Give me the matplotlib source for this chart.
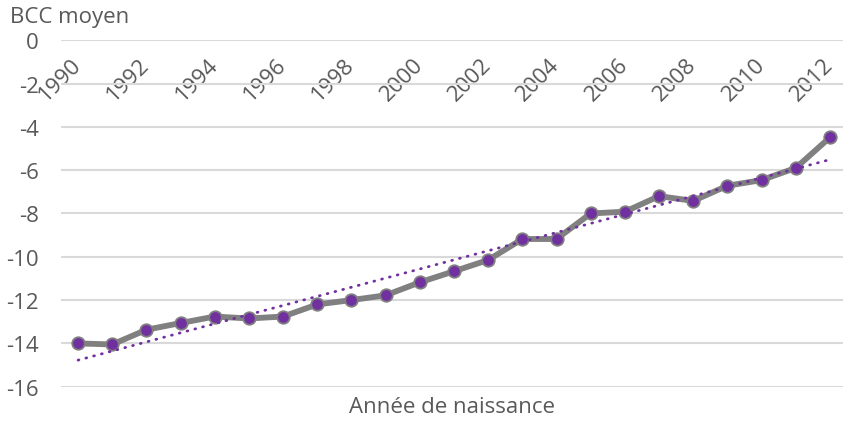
import numpy as np
import matplotlib
matplotlib.use("Agg")
import matplotlib.pyplot as plt

plt.rcParams['font.family'] = ['Open Sans', 'DejaVu Sans']

years = list(range(1990, 2013))
bcc = [-14.0, -14.05, -13.37, -13.06, -12.76, -12.85, -12.76, -12.2, -12.0, -11.78,
       -11.18, -10.67, -10.15, -9.18, -9.18, -8.0, -7.92, -7.2, -7.42, -6.72,
       -6.46, -5.9, -4.49]
y_ticks = list(range(-16, 1, 2))

grey_txt = "#595959"
purple = "#7030A0"
fs = 16

fig = plt.figure(figsize=(8.43, 4.31), dpi=100)
ax = fig.add_axes([61 / 843, 1 - 387.7 / 431, 786 / 843, (387.7 - 41.2) / 431])

x = np.arange(len(years))
ax.plot(x, bcc, color="#808080", lw=4.2, zorder=3,
        marker="o", ms=9, mfc=purple, mec="#808080", mew=1.3, solid_joinstyle="round")

# linear trend line, like excel
k, b = np.polyfit(x, bcc, 1)
ax.plot(x, k * x + b, color=purple, lw=2.0, ls=(0, (0.3, 2.6)), dash_capstyle="round", zorder=4)

ax.set_xlim(-0.5, len(years) - 0.5)
ax.set_ylim(-16, 0)
ax.set_yticks(y_ticks)
ax.set_yticklabels([str(v) for v in y_ticks])
ax.yaxis.grid(True, color="#D9D9D9", lw=1.5)
ax.set_axisbelow(True)

for s in ax.spines.values():
    s.set_visible(False)
ax.spines['bottom'].set_position(('data', 0))

ax.set_xticks(x[::2])
ax.set_xticklabels([str(v) for v in years[::2]])
ax.tick_params(axis="both", length=0, labelsize=fs, labelcolor=grey_txt)
ax.tick_params(axis="y", pad=16)
ax.tick_params(axis="x", pad=15)
for lab in ax.get_xticklabels():
    lab.set_rotation(45)
    lab.set_rotation_mode("anchor")
    lab.set_ha("right")
    lab.set_va("center")

fig.text(10 / 843, 1 - 18 / 431, "BCC moyen", fontsize=fs, color=grey_txt, ha="left", va="center")
fig.text(452 / 843, 1 - 408 / 431, "Année de naissance", fontsize=fs, color=grey_txt, ha="center", va="center")

fig.savefig("out.png", dpi=100)
